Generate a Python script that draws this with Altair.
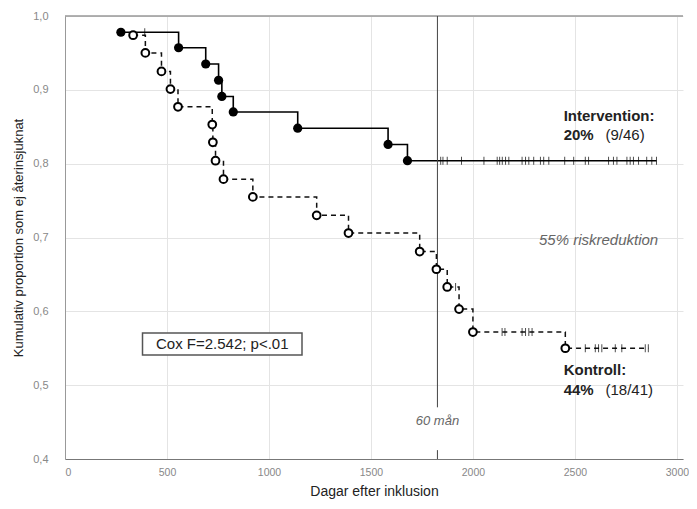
import altair as alt
import pandas as pd

# Intervention group (filled circles, solid line)
int_time = [274, 557, 690, 753, 769, 825, 1141, 1584, 1679]
int_surv = [0.978, 0.957, 0.935, 0.913, 0.891, 0.870, 0.848, 0.826, 0.804]
int_end = 2900
int_censor = [391, 1842, 1853, 1874, 1944, 2054, 2119, 2131, 2144, 2160, 2176,
              2241, 2258, 2274, 2298, 2331, 2347, 2372, 2450, 2494, 2551, 2567,
              2665, 2689, 2706, 2755, 2771, 2787, 2812, 2852, 2877, 2900]

# Control group (open circles, dashed line)
ctl_time = [334, 394, 473, 517, 554, 722, 725, 738, 777, 921, 1234, 1390,
            1739, 1821, 1874, 1932, 2000, 2453]
ctl_surv = [0.974, 0.950, 0.925, 0.901, 0.877, 0.853, 0.829, 0.804, 0.779,
            0.755, 0.730, 0.706, 0.681, 0.657, 0.633, 0.603, 0.572, 0.550]
ctl_end = 2860
ctl_censor = [1915, 2143, 2157, 2241, 2258, 2274, 2290, 2551, 2600, 2616,
              2632, 2698, 2730, 2845, 2860]

x_ticks = [0, 500, 1000, 1500, 2000, 2500, 3000]
y_ticks = [0.4, 0.5, 0.6, 0.7, 0.8, 0.9, 1.0]
cutoff = 1826

FONT = "Liberation Sans"


def level_at(times, surv, t):
    lvl = None
    for tt, s in zip(times, surv):
        if tt <= t:
            lvl = s
    return lvl if lvl is not None else surv[0]


int_line = pd.DataFrame({"t": int_time + [int_end], "s": int_surv + [int_surv[-1]]})
ctl_line = pd.DataFrame({"t": ctl_time + [ctl_end], "s": ctl_surv + [ctl_surv[-1]]})
int_pts = pd.DataFrame({"t": int_time, "s": int_surv})
ctl_pts = pd.DataFrame({"t": ctl_time, "s": ctl_surv})
int_cens = pd.DataFrame({"t": int_censor,
                         "s": [level_at(int_time, int_surv, t) for t in int_censor]})
ctl_cens = pd.DataFrame({"t": ctl_censor,
                         "s": [level_at(ctl_time, ctl_surv, t) for t in ctl_censor]})

xs = alt.Scale(domain=[0, 3030], nice=False, zero=False)
ys = alt.Scale(domain=[0.4, 1.0], nice=False, zero=False)

X = alt.X("t:Q", scale=xs, title="Dagar efter inklusion",
          axis=alt.Axis(values=x_ticks, format="d", grid=True, gridColor="#e4e4e4",
                        domainColor="#777", labelColor="#888", labelFont=FONT,
                        labelFontSize=10.5, tickSize=0, labelPadding=8,
                        titleFont=FONT, titleFontSize=14, titleFontWeight="normal",
                        titleColor="#222", titlePadding=7))
Y = alt.Y("s:Q", scale=ys, title="Kumulativ proportion som ej återinsjuknat",
          axis=alt.Axis(values=y_ticks, grid=True, gridColor="#e4e4e4",
                        domainColor="#999", labelColor="#888", labelFont=FONT,
                        labelFontSize=11, tickSize=0, labelPadding=17,
                        labelExpr="replace(format(datum.value, '.1f'), '.', ',')",
                        titleFont=FONT, titleFontSize=13, titleFontWeight="normal",
                        titleColor="#222", titlePadding=7))

base_x = alt.X("t:Q", scale=xs)
base_y = alt.Y("s:Q", scale=ys)

top_border = alt.Chart(pd.DataFrame({"s": [1.0]})).mark_rule(
    color="#999", strokeWidth=1.5).encode(y=base_y)

cut_df = pd.DataFrame({"t": [cutoff, cutoff], "s": [1.0, 0.412], "s2": [0.47, 0.4]})
cut_rule = alt.Chart(cut_df).mark_rule(color="#444", strokeWidth=1).encode(
    x=base_x, y=base_y, y2="s2:Q")

int_l = alt.Chart(int_line).mark_line(
    interpolate="step-after", color="#000", strokeWidth=1.6).encode(x=X, y=Y)
ctl_l = alt.Chart(ctl_line).mark_line(
    interpolate="step-after", color="#111", strokeWidth=1.5,
    strokeDash=[5, 4]).encode(x=base_x, y=base_y)

int_c = alt.Chart(int_cens).mark_tick(
    orient="vertical", size=8, thickness=1, color="#000").encode(x=base_x, y=base_y)
ctl_c = alt.Chart(ctl_cens).mark_tick(
    orient="vertical", size=8, thickness=1, color="#000").encode(x=base_x, y=base_y)

int_p = alt.Chart(int_pts).mark_point(
    shape="circle", filled=True, size=85, color="#000", opacity=1).encode(
    x=base_x, y=base_y)
ctl_p = alt.Chart(ctl_pts).mark_point(
    shape="circle", filled=True, size=60, fill="#fff", stroke="#000",
    strokeWidth=2, opacity=1).encode(x=base_x, y=base_y)

# Annotations
def txt(df, **kw):
    return alt.Chart(pd.DataFrame(df)).mark_text(font=FONT, **kw).encode(
        x=base_x, y=base_y, text="label:N")

bold_txt = txt({"t": [2445, 2445, 2445, 2445], "s": [0.8645, 0.839, 0.520, 0.493],
                "label": ["Intervention:", "20%", "Kontroll:", "44%"]},
               align="left", baseline="middle", fontSize=15, fontWeight="bold",
               color="#222")
norm_txt = txt({"t": [2650, 2650], "s": [0.839, 0.493],
                "label": ["(9/46)", "(18/41)"]},
               align="left", baseline="middle", fontSize=15, color="#222")
ital_txt = txt({"t": [2616], "s": [0.697], "label": ["55% riskreduktion"]},
               align="center", baseline="middle", fontSize=15, fontStyle="italic",
               color="#666")
mon_txt = txt({"t": [cutoff], "s": [0.451], "label": ["60 mån"]},
              align="center", baseline="middle", fontSize=13, fontStyle="italic",
              color="#666")

box = alt.Chart(pd.DataFrame({"t": [380], "t2": [1162], "s": [0.5705], "s2": [0.541]})
                ).mark_rect(fill="#fff", stroke="#555", strokeWidth=1.5).encode(
    x=base_x, x2="t2:Q", y=base_y, y2="s2:Q")
box_txt = txt({"t": [771], "s": [0.5557], "label": ["Cox F=2.542; p<.01"]},
              align="center", baseline="middle", fontSize=15, color="#222")

chart = alt.layer(
    int_l, top_border, cut_rule, ctl_l, int_c, ctl_c, int_p, ctl_p,
    bold_txt, norm_txt, ital_txt, mon_txt, box, box_txt
).properties(
    width=618, height=443,
    autosize=alt.AutoSizeParams(type="none"),
    padding={"left": 57, "top": 8, "right": 6, "bottom": 50},
    background="#fff",
).configure_view(stroke=None)

chart.save("out.html", embed_options={"renderer": "svg", "actions": False})
